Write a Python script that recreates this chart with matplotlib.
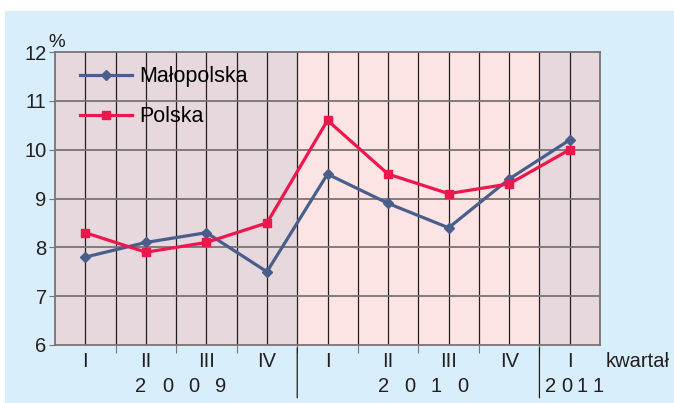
import matplotlib.pyplot as plt
from matplotlib.patches import Rectangle

plt.rcParams['font.family'] = ['Liberation Sans', 'DejaVu Sans']

# kwartały I 2009 - I 2011
kwartaly = ['I', 'II', 'III', 'IV', 'I', 'II', 'III', 'IV', 'I']
lata = ['2009', '2010', '2011']
malopolska = [7.8, 8.1, 8.3, 7.5, 9.5, 8.9, 8.4, 9.4, 10.2]
polska = [8.3, 7.9, 8.1, 8.5, 10.6, 9.5, 9.1, 9.3, 10.0]

c_mal = '#4a5e8c'
c_pol = '#ec174c'
c_tlo = '#d9eefb'
c_2009 = '#e6d8dc'
c_2010 = '#fde4e4'
c_txt = '#231f20'

fig = plt.figure(figsize=(6.74, 4.03), dpi=100, facecolor='white')
fig.patches.append(Rectangle((5/674, 0), 1, 1 - 11/403, transform=fig.transFigure,
                             facecolor=c_tlo, edgecolor='none', zorder=-10))
ax = fig.add_axes([55/674, 1 - 345/403, 545/674, 293/403])

x = list(range(len(kwartaly)))
ax.set_xlim(-0.5, len(kwartaly) - 0.5)
ax.set_ylim(6, 12)

# tlo wg lat
ax.axvspan(-0.5, 3.5, color=c_2009, zorder=0, lw=0)
ax.axvspan(3.5, 7.5, color=c_2010, zorder=0, lw=0)
ax.axvspan(7.5, 8.5, color=c_2009, zorder=0, lw=0)

# siatka
for xv in [i * 0.5 - 0.5 for i in range(1, 2 * len(kwartaly))]:
    ax.axvline(xv, color=c_txt, lw=0.9, zorder=1)
for yv in range(7, 12):
    ax.axhline(yv, color='#7a7274', lw=1.3, zorder=1)
for s in ax.spines.values():
    s.set_color('#7a7274')
    s.set_linewidth(1.3)

ax.plot(x, malopolska, color=c_mal, lw=2.3, marker='D', ms=5, label='Małopolska', zorder=3)
ax.plot(x, polska, color=c_pol, lw=2.3, marker='s', ms=5.5, label='Polska', zorder=3)

leg = ax.legend(loc='upper left', bbox_to_anchor=(0.011, 1.018), frameon=False,
                fontsize=15.5, handlelength=2.4, handletextpad=0.33, labelspacing=0.88)

ax.set_yticks(range(6, 13))
ax.tick_params(axis='y', labelsize=14.5, length=4, color='#7a7274', pad=2, labelcolor=c_txt)
ax.set_xticks([i + 0.5 for i in range(len(kwartaly) - 1)])
ax.set_xticklabels([])
ax.tick_params(axis='x', length=6, color='#7a7274')

for i, k in enumerate(kwartaly):
    ax.annotate(k, (i, 0), xycoords=('data', 'axes fraction'), xytext=(0, -12),
                textcoords='offset points', ha='center', va='center', fontsize=14.5,
                color=c_txt, annotation_clip=False)

ax.annotate('kwartał', (1, 0), xycoords='axes fraction', xytext=(4, -12),
            textcoords='offset points', ha='left', va='center', fontsize=14.5,
            color=c_txt, annotation_clip=False)
ax.annotate('%', (0, 1), xycoords='axes fraction', xytext=(1, 7),
            textcoords='offset points', ha='center', va='center', fontsize=13.5,
            color=c_txt, annotation_clip=False)

# podpisy lat - cyfry rozstrzelone
srodki = [1.5, 5.5, 8]
rozstaw = [19.2, 19.2, 11.4]
for s, rok, r in zip(srodki, lata, rozstaw):
    for j, ch in enumerate(rok):
        ax.annotate(ch, (s, 0), xycoords=('data', 'axes fraction'),
                    xytext=(3.5 + (j - 1.5) * r, -30), textcoords='offset points',
                    ha='center', va='center', fontsize=14.5, color=c_txt,
                    annotation_clip=False)

# linie oddzielajace lata
for xv in [3.5, 7.5]:
    ax.annotate('', xy=(xv, 0), xycoords=('data', 'axes fraction'), xytext=(xv, -0.19),
                textcoords=('data', 'axes fraction'),
                arrowprops=dict(arrowstyle='-', color=c_txt, lw=0.9), annotation_clip=False)

fig.savefig('out.png', dpi=100, facecolor=fig.get_facecolor())
